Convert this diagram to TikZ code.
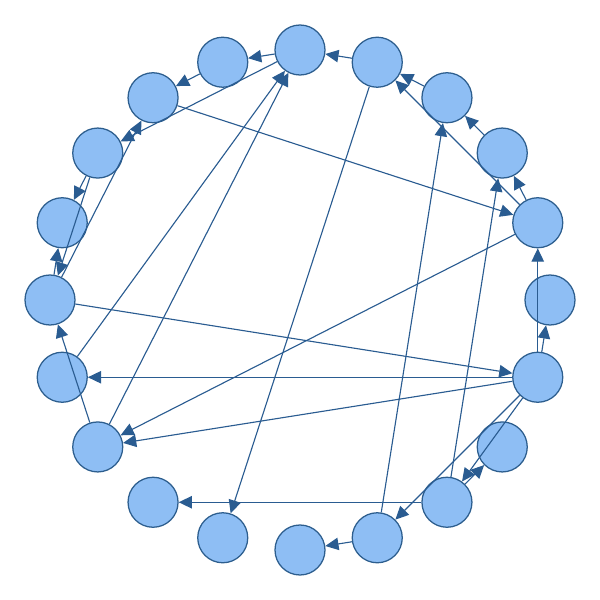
\documentclass[tikz,border=0pt]{standalone}
\usetikzlibrary{arrows.meta}
\definecolor{ringfill}{HTML}{8EBEF4}
\definecolor{ringline}{HTML}{2D5E8E}
\definecolor{linkblue}{HTML}{2A5C91}
\begin{document}
\begin{tikzpicture}[every node/.style={circle, draw=ringline, fill=ringfill, line width=0.9pt, minimum size=1.25cm, inner sep=0pt},
    link/.style={draw=linkblue, line width=0.8pt, -{Triangle[length=0.33cm, width=0.31cm]}}]
        \useasboundingbox (-7.5,-7.5) rectangle (7.5,7.5);
        \node (v1) at (90:6.25) {};
        \node (v2) at (72:6.25) {};
        \node (v3) at (54:6.25) {};
        \node (v4) at (36:6.25) {};
        \node (v5) at (18:6.25) {};
        \node (v6) at (0:6.25) {};
        \node (v7) at (-18:6.25) {};
        \node (v8) at (-36:6.25) {};
        \node (v9) at (-54:6.25) {};
        \node (v10) at (-72:6.25) {};
        \node (v11) at (-90:6.25) {};
        \node (v12) at (-108:6.25) {};
        \node (v13) at (-126:6.25) {};
        \node (v14) at (-144:6.25) {};
        \node (v15) at (-162:6.25) {};
        \node (v16) at (180:6.25) {};
        \node (v17) at (162:6.25) {};
        \node (v18) at (144:6.25) {};
        \node (v19) at (126:6.25) {};
        \node (v20) at (108:6.25) {};

        \draw[link] (v2) -- (v1);
        \draw[link] (v1) -- (v20);
        \draw[link] (v20) -- (v19);
        \draw[link] (v1) -- (v18);
        \draw[link] (v19) -- (v5);
        \draw[link] (v16) -- (v19);
        \draw[link] (v18) -- (v17);
        \draw[link] (v18) -- (v16);
        \draw[link] (v16) -- (v17);
        \draw[link] (v15) -- (v1);
        \draw[link] (v14) -- (v1);
        \draw[link] (v4) -- (v3);
        \draw[link] (v5) -- (v4);
        \draw[link] (v5) -- (v2);
        \draw[link] (v3) -- (v2);
        \draw[link] (v10) -- (v3);
        \draw[link] (v9) -- (v4);
        \draw[link] (v5) -- (v14);
        \draw[link] (v7) -- (v5);
        \draw[link] (v7) -- (v6);
        \draw[link] (v16) -- (v7);
        \draw[link] (v7) -- (v15);
        \draw[link] (v7) -- (v14);
        \draw[link] (v7) -- (v9);
        \draw[link] (v9) -- (v8);
        \draw[link] (v7) -- (v10);
        \draw[link] (v10) -- (v11);
        \draw[link] (v9) -- (v13);
        \draw[link] (v2) -- (v12);
        \draw[link] (v14) -- (v16);
    \end{tikzpicture}
\end{document}
